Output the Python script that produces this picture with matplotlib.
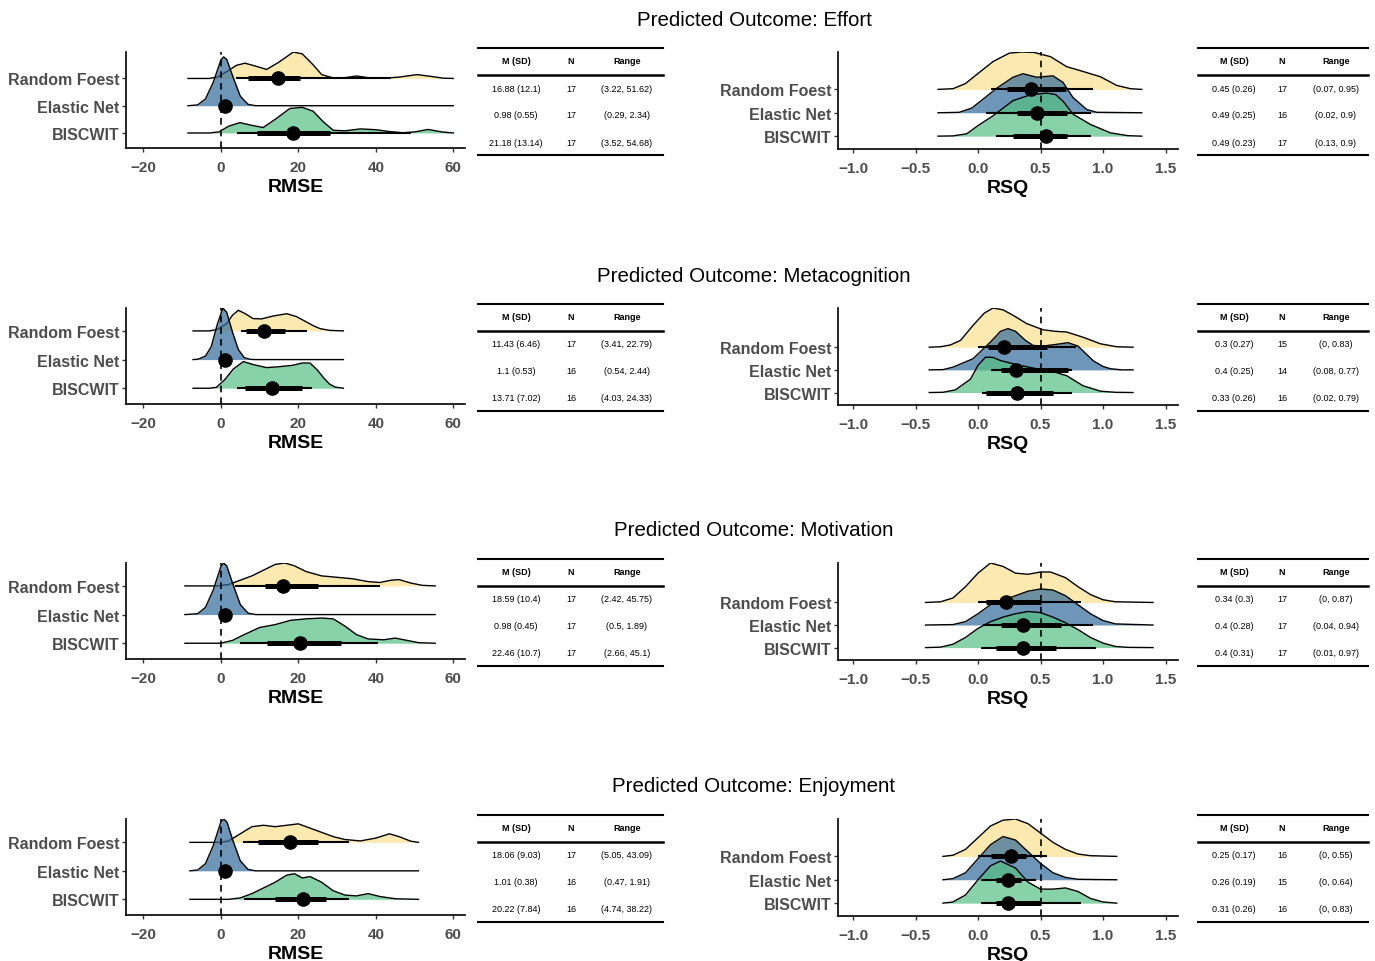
import matplotlib
matplotlib.use("Agg")
import matplotlib.pyplot as plt
import numpy as np

plt.rcParams['font.family'] = ['Liberation Sans', 'DejaVu Sans']

W, H = 1375, 962

models = ["BISCWIT", "Elastic Net", "Random Foest"]   # bottom row first
outcomes = ["Effort", "Metacognition", "Motivation", "Enjoyment"]
fills = ["#55C083", "#306A9A", "#FBE08D"]

rmse_ticks = [-20, 0, 20, 40, 60]
rsq_ticks = [-1.0, -0.5, 0.0, 0.5, 1.0, 1.5]

# ---- ridge densities, (x, height in rows) ----
effort_rmse_rf = [(-8.5,0),(-3,0),(-1,0.05),(1.5,0.25),(4,0.48),(6.2,0.56),(9,0.45),(11.8,0.33),(15,0.6),(18.7,0.97),(21,0.9),(23.8,0.5),(26,0.14),(29,0.02),(32,0.03),(35,0.09),(38,0.03),(42,0.01),(46,0.05),(50.6,0.14),(54,0.08),(57.4,0.01),(60,0)]
effort_rmse_en = [(-8.5,0),(-6,0.03),(-4,0.25),(-2,0.85),(0,1.68),(0.7,1.79),(1.5,1.7),(3,1.1),(5,0.35),(7,0.05),(9,0),(60,0)]
effort_rmse_bw = [(-8.5,0),(-3,0),(-0.5,0.04),(2,0.25),(4.9,0.38),(8,0.28),(10.9,0.2),(14,0.5),(17.8,0.9),(21,0.94),(23.8,0.8),(26.5,0.4),(29,0.1),(32,0.08),(36,0.15),(40,0.12),(43.7,0.05),(47,0.01),(50,0.04),(53.5,0.13),(57,0.04),(60,0)]

effort_rsq_rf = [(-0.32,0),(-0.2,0.03),(-0.1,0.25),(0,0.68),(0.12,1.19),(0.25,1.55),(0.35,1.6),(0.45,1.58),(0.58,1.4),(0.71,0.97),(0.82,0.8),(0.98,0.54),(1.11,0.17),(1.22,0.03),(1.31,0)]
effort_rsq_en = [(-0.32,0),(-0.15,0.02),(-0.05,0.2),(0.04,0.58),(0.15,1.05),(0.28,1.52),(0.36,1.67),(0.47,1.52),(0.6,1.58),(0.68,1.3),(0.76,0.65),(0.87,0.14),(0.95,0.02),(1.31,0)]
effort_rsq_bw = [(-0.32,0),(-0.2,0.01),(-0.09,0.1),(0.0,0.45),(0.12,0.87),(0.28,1.52),(0.42,1.77),(0.55,1.84),(0.62,1.78),(0.68,1.5),(0.76,0.94),(0.9,0.5),(1.06,0.14),(1.2,0.02),(1.31,0)]

meta_rmse_rf = [(-7.2,0),(-3,0),(-1,0.05),(1.5,0.26),(3,0.55),(4.5,0.72),(6.3,0.6),(8.3,0.43),(10.5,0.42),(13.5,0.52),(17,0.6),(19.5,0.5),(22.1,0.31),(24,0.17),(25.6,0.08),(28,0.02),(31.6,0)]
meta_rmse_en = [(-7.2,0),(-6,0.01),(-4,0.12),(-2.5,0.45),(-1,1.2),(0.5,1.8),(1.5,1.65),(3,0.95),(4.5,0.35),(6,0.07),(7.5,0.01),(9,0),(31.6,0)]
meta_rmse_bw = [(-7.2,0),(-3,0),(-1.2,0.03),(1,0.3),(3.2,0.67),(5.8,0.93),(8.5,0.82),(11.8,0.72),(15,0.75),(18.5,0.8),(21,0.88),(23,0.88),(25,0.62),(26.4,0.38),(28,0.15),(29.5,0.04),(31.6,0)]

meta_rsq_rf = [(-0.39,0),(-0.3,0.02),(-0.22,0.1),(-0.14,0.3),(-0.04,0.96),(0.05,1.5),(0.12,1.73),(0.2,1.65),(0.28,1.41),(0.39,1.04),(0.52,0.77),(0.62,0.7),(0.71,0.67),(0.84,0.44),(0.98,0.15),(1.11,0.02),(1.24,0)]
meta_rsq_en = [(-0.39,0),(-0.28,0.01),(-0.2,0.12),(-0.04,0.49),(0.1,1.23),(0.18,1.7),(0.24,1.82),(0.3,1.7),(0.38,1.3),(0.44,1.08),(0.52,1.05),(0.62,1.12),(0.72,1.2),(0.8,1.05),(0.92,0.41),(1.0,0.15),(1.06,0.05),(1.15,0),(1.24,0)]
meta_rsq_bw = [(-0.39,0),(-0.28,0.01),(-0.18,0.12),(-0.06,0.59),(0.0,1.2),(0.06,1.56),(0.12,1.55),(0.18,1.41),(0.34,1.19),(0.45,1.07),(0.58,0.96),(0.71,0.74),(0.84,0.3),(0.98,0.06),(1.1,0.01),(1.24,0)]

motiv_rmse_rf = [(-9.3,0),(-1,0),(2,0.05),(5,0.2),(8,0.35),(11,0.55),(14,0.75),(16.5,0.8),(19,0.7),(22,0.5),(26,0.35),(30,0.3),(34,0.25),(38,0.15),(41,0.12),(44,0.2),(46,0.22),(49,0.1),(52,0.02),(55.3,0)]
motiv_rmse_en = [(-9.3,0),(-6,0.03),(-4,0.25),(-2,0.85),(0,1.68),(0.7,1.8),(1.5,1.7),(3,1.1),(5,0.35),(7,0.05),(9,0),(55.3,0)]
motiv_rmse_bw = [(-9.3,0),(0,0),(3,0.1),(6,0.3),(10,0.55),(14,0.65),(18,0.8),(22,0.85),(26,0.88),(29,0.85),(32,0.6),(35,0.3),(38,0.15),(42,0.12),(45,0.18),(48,0.1),(51,0.02),(55.3,0)]

motiv_rsq_rf = [(-0.42,0),(-0.3,0.03),(-0.2,0.2),(-0.1,0.7),(0.0,1.3),(0.1,1.75),(0.2,1.6),(0.3,1.3),(0.4,1.25),(0.5,1.35),(0.58,1.35),(0.7,1.1),(0.8,0.7),(0.9,0.35),(1.0,0.12),(1.1,0.03),(1.4,0)]
motiv_rsq_en = [(-0.42,0),(-0.2,0.02),(-0.1,0.15),(0.0,0.5),(0.1,0.9),(0.2,1.1),(0.3,1.3),(0.4,1.5),(0.5,1.6),(0.6,1.55),(0.7,1.3),(0.8,0.9),(0.9,0.5),(1.0,0.2),(1.1,0.05),(1.4,0)]
motiv_rsq_bw = [(-0.42,0),(-0.3,0.02),(-0.2,0.15),(-0.1,0.45),(0.0,0.85),(0.1,1.15),(0.2,1.35),(0.3,1.5),(0.4,1.6),(0.5,1.55),(0.6,1.35),(0.7,1.1),(0.8,0.8),(0.9,0.45),(1.0,0.2),(1.1,0.05),(1.2,0.01),(1.4,0)]

enjoy_rmse_rf = [(-8,0),(0,0),(2,0.05),(5,0.3),(8,0.55),(11,0.6),(14,0.55),(17,0.6),(20,0.65),(23,0.5),(26,0.35),(29,0.2),(32,0.1),(36,0.05),(40,0.15),(43.5,0.3),(46,0.2),(49,0.04),(51,0)]
enjoy_rmse_en = [(-8,0),(-6,0.03),(-4,0.25),(-2,0.88),(0,1.72),(0.8,1.82),(1.6,1.7),(3,1.1),(5,0.35),(7,0.05),(9,0),(51,0)]
enjoy_rmse_bw = [(-8,0),(2,0),(5,0.05),(8,0.2),(11,0.4),(14,0.6),(17,0.85),(19,0.9),(21,0.75),(23,0.8),(26,0.6),(29,0.3),(32,0.15),(35,0.12),(38,0.2),(41,0.1),(45,0.02),(51,0)]

enjoy_rsq_rf = [(-0.28,0),(-0.2,0.05),(-0.1,0.3),(0.0,0.8),(0.1,1.3),(0.2,1.55),(0.3,1.6),(0.4,1.4),(0.5,1.0),(0.6,0.6),(0.7,0.3),(0.8,0.1),(0.9,0.03),(1.11,0)]
enjoy_rsq_en = [(-0.28,0),(-0.2,0.05),(-0.1,0.3),(0.0,0.9),(0.1,1.5),(0.2,1.85),(0.3,1.7),(0.4,1.2),(0.5,0.7),(0.6,0.3),(0.7,0.1),(0.8,0.02),(1.11,0)]
enjoy_rsq_bw = [(-0.28,0),(-0.2,0.05),(-0.1,0.35),(0.0,1.0),(0.1,1.6),(0.18,1.8),(0.3,1.5),(0.4,0.9),(0.5,0.6),(0.6,0.6),(0.7,0.65),(0.8,0.5),(0.9,0.2),(1.0,0.05),(1.11,0)]

# ---- point intervals: median, 66% and 95% (order BISCWIT, EN, RF) ----
effort_rmse_pt = [18.7, 0.98, 14.7]
effort_rmse_thick = [(9.2, 28.2), (0.6, 1.4), (7.0, 20.4)]
effort_rmse_thin = [(4.1, 49.0), (0.3, 2.2), (3.8, 44.0)]
effort_rsq_pt = [0.54, 0.47, 0.42]
effort_rsq_thick = [(0.28, 0.71), (0.31, 0.71), (0.23, 0.7)]
effort_rsq_thin = [(0.14, 0.9), (0.06, 0.9), (0.1, 0.92)]

meta_rmse_pt = [13.1, 1.0, 11.0]
meta_rmse_thick = [(6.2, 20.8), (0.7, 1.4), (6.6, 16.5)]
meta_rmse_thin = [(4.2, 23.4), (0.54, 2.2), (5.3, 22.2)]
meta_rsq_pt = [0.31, 0.3, 0.21]
meta_rsq_thick = [(0.06, 0.6), (0.18, 0.72), (0.08, 0.55)]
meta_rsq_thin = [(0.03, 0.75), (0.1, 0.75), (0.0, 0.78)]

motiv_rmse_pt = [20.4, 0.98, 16.0]
motiv_rmse_thick = [(12.0, 31.0), (0.7, 1.3), (11.4, 25.0)]
motiv_rmse_thin = [(5.0, 40.6), (0.5, 1.8), (3.6, 41.0)]
motiv_rsq_pt = [0.36, 0.36, 0.22]
motiv_rsq_thick = [(0.14, 0.62), (0.18, 0.66), (0.06, 0.5)]
motiv_rsq_thin = [(0.02, 0.94), (0.04, 0.92), (0.0, 0.82)]

enjoy_rmse_pt = [21.2, 1.01, 17.8]
enjoy_rmse_thick = [(14.0, 27.0), (0.7, 1.3), (9.6, 25.0)]
enjoy_rmse_thin = [(6.0, 33.0), (0.5, 1.8), (5.7, 33.0)]
enjoy_rsq_pt = [0.24, 0.24, 0.26]
enjoy_rsq_thick = [(0.14, 0.5), (0.14, 0.34), (0.1, 0.38)]
enjoy_rsq_thin = [(0.02, 0.82), (0.02, 0.46), (0.0, 0.55)]

# ---- summary tables (order RF, EN, BISCWIT as printed) ----
effort_rmse_msd = ["16.88 (12.1)", "0.98 (0.55)", "21.18 (13.14)"]
effort_rmse_n = ["17", "17", "17"]
effort_rmse_range = ["(3.22, 51.62)", "(0.29, 2.34)", "(3.52, 54.68)"]
effort_rsq_msd = ["0.45 (0.26)", "0.49 (0.25)", "0.49 (0.23)"]
effort_rsq_n = ["17", "16", "17"]
effort_rsq_range = ["(0.07, 0.95)", "(0.02, 0.9)", "(0.13, 0.9)"]

meta_rmse_msd = ["11.43 (6.46)", "1.1 (0.53)", "13.71 (7.02)"]
meta_rmse_n = ["17", "16", "16"]
meta_rmse_range = ["(3.41, 22.79)", "(0.54, 2.44)", "(4.03, 24.33)"]
meta_rsq_msd = ["0.3 (0.27)", "0.4 (0.25)", "0.33 (0.26)"]
meta_rsq_n = ["15", "14", "16"]
meta_rsq_range = ["(0, 0.83)", "(0.08, 0.77)", "(0.02, 0.79)"]

motiv_rmse_msd = ["18.59 (10.4)", "0.98 (0.45)", "22.46 (10.7)"]
motiv_rmse_n = ["17", "17", "17"]
motiv_rmse_range = ["(2.42, 45.75)", "(0.5, 1.89)", "(2.66, 45.1)"]
motiv_rsq_msd = ["0.34 (0.3)", "0.4 (0.28)", "0.4 (0.31)"]
motiv_rsq_n = ["17", "17", "17"]
motiv_rsq_range = ["(0, 0.87)", "(0.04, 0.94)", "(0.01, 0.97)"]

enjoy_rmse_msd = ["18.06 (9.03)", "1.01 (0.38)", "20.22 (7.84)"]
enjoy_rmse_n = ["17", "16", "16"]
enjoy_rmse_range = ["(5.05, 43.09)", "(0.47, 1.91)", "(4.74, 38.22)"]
enjoy_rsq_msd = ["0.25 (0.17)", "0.26 (0.19)", "0.31 (0.26)"]
enjoy_rsq_n = ["16", "15", "16"]
enjoy_rsq_range = ["(0, 0.55)", "(0, 0.64)", "(0, 0.83)"]

rows = [
    ("Effort", [effort_rmse_bw, effort_rmse_en, effort_rmse_rf], effort_rmse_pt, effort_rmse_thick, effort_rmse_thin,
     [effort_rsq_bw, effort_rsq_en, effort_rsq_rf], effort_rsq_pt, effort_rsq_thick, effort_rsq_thin,
     (effort_rmse_msd, effort_rmse_n, effort_rmse_range), (effort_rsq_msd, effort_rsq_n, effort_rsq_range)),
    ("Metacognition", [meta_rmse_bw, meta_rmse_en, meta_rmse_rf], meta_rmse_pt, meta_rmse_thick, meta_rmse_thin,
     [meta_rsq_bw, meta_rsq_en, meta_rsq_rf], meta_rsq_pt, meta_rsq_thick, meta_rsq_thin,
     (meta_rmse_msd, meta_rmse_n, meta_rmse_range), (meta_rsq_msd, meta_rsq_n, meta_rsq_range)),
    ("Motivation", [motiv_rmse_bw, motiv_rmse_en, motiv_rmse_rf], motiv_rmse_pt, motiv_rmse_thick, motiv_rmse_thin,
     [motiv_rsq_bw, motiv_rsq_en, motiv_rsq_rf], motiv_rsq_pt, motiv_rsq_thick, motiv_rsq_thin,
     (motiv_rmse_msd, motiv_rmse_n, motiv_rmse_range), (motiv_rsq_msd, motiv_rsq_n, motiv_rsq_range)),
    ("Enjoyment", [enjoy_rmse_bw, enjoy_rmse_en, enjoy_rmse_rf], enjoy_rmse_pt, enjoy_rmse_thick, enjoy_rmse_thin,
     [enjoy_rsq_bw, enjoy_rsq_en, enjoy_rsq_rf], enjoy_rsq_pt, enjoy_rsq_thick, enjoy_rsq_thin,
     (enjoy_rmse_msd, enjoy_rmse_n, enjoy_rmse_range), (enjoy_rsq_msd, enjoy_rsq_n, enjoy_rsq_range)),
]
row_offset = [0, 256, 511, 767]


def box(l, t, r, b):
    # pixel box -> figure fraction
    return [l / W, 1 - b / H, (r - l) / W, (b - t) / H]


def ridge(ax, curves, pts, thick, thin, xlim, ref, ticks, label):
    z = 2
    top = 0
    for i in [2, 1, 0]:           # top row first so lower rows overlap it
        xs = np.array([p[0] for p in curves[i]])
        hs = np.array([p[1] for p in curves[i]])
        base = i + 1
        ax.fill_between(xs, base, base + hs, color=fills[i], alpha=0.7, lw=0, zorder=z)
        ax.plot(xs, base + hs, color="black", lw=1.0, zorder=z + 0.5)
        top = max(top, base + hs.max())
        z += 1
    ax.axvline(ref, color="black", lw=1.2, ls=(0, (4, 3)), zorder=8)
    for i in range(3):
        y = i + 1
        ax.plot(thin[i], [y, y], color="black", lw=1.5, solid_capstyle="butt", zorder=9)
        ax.plot(thick[i], [y, y], color="black", lw=3.6, solid_capstyle="butt", zorder=9)
        ax.plot([pts[i]], [y], "o", color="black", ms=9.5, zorder=10)
    ax.set_xlim(*xlim)
    ax.set_ylim(0.45, top)
    for s in ["top", "right"]:
        ax.spines[s].set_visible(False)
    for s in ["left", "bottom"]:
        ax.spines[s].set_linewidth(1.2)
    ax.set_yticks([1, 2, 3])
    ax.set_yticklabels(models, fontweight="bold", color="#4d4d4d", fontsize=11.5)
    ax.set_xticks(ticks)
    if label == "RSQ":
        ax.set_xticklabels([f"{t:.1f}".replace("-", "\u2212") for t in ticks])
    for t in ax.get_xticklabels():
        t.set_fontweight("bold")
        t.set_color("#4d4d4d")
        t.set_fontsize(11)
    ax.tick_params(axis="y", length=3, width=1, color="#333333", pad=2)
    ax.tick_params(axis="x", length=3, width=1, color="#333333", pad=5.5)
    ax.set_xlabel(label, fontweight="bold", fontsize=14, labelpad=3)


fig = plt.figure(figsize=(W / 100, H / 100), dpi=100)
ov = fig.add_axes([0, 0, 1, 1])
ov.set_xlim(0, W)
ov.set_ylim(H, 0)
ov.axis("off")


def table(x0, x1, cols, off, data):
    msd, n, rng = data
    ov.plot([x0, x1], [49 + off] * 2, color="black", lw=1.5)
    ov.plot([x0, x1], [76 + off] * 2, color="black", lw=1.8)
    ov.plot([x0, x1], [156 + off] * 2, color="black", lw=1.5)
    for cx, h in zip(cols, ["M (SD)", "N", "Range"]):
        ov.text(cx, 62 + off, h, ha="center", va="center", fontsize=6.5, fontweight="bold")
    for j, yy in enumerate([89, 116, 143]):
        for cx, v in zip(cols, [msd[j], n[j], rng[j]]):
            ov.text(cx, yy + off, v, ha="center", va="center", fontsize=6.5)


for k, r in enumerate(rows):
    (name, c1, p1, tk1, tn1, c2, p2, tk2, tn2, tab1, tab2) = r
    off = row_offset[k]
    fig.text(754 / W, 1 - (20 + off) / H, "Predicted Outcome: " + name,
             ha="center", va="center", fontsize=14.8)
    ax1 = fig.add_axes(box(126, 53 + off, 465, 149 + off))
    ridge(ax1, c1, p1, tk1, tn1, (-24.5, 63), 0, rmse_ticks, "RMSE")
    ax2 = fig.add_axes(box(838, 53 + off, 1178, 150 + off))
    ridge(ax2, c2, p2, tk2, tn2, (-1.12, 1.6), 0.5, rsq_ticks, "RSQ")
    table(478, 663, [516, 571, 627], off, tab1)
    table(1198, 1368, [1234, 1282, 1336], off, tab2)

fig.savefig("out.png", dpi=100)
